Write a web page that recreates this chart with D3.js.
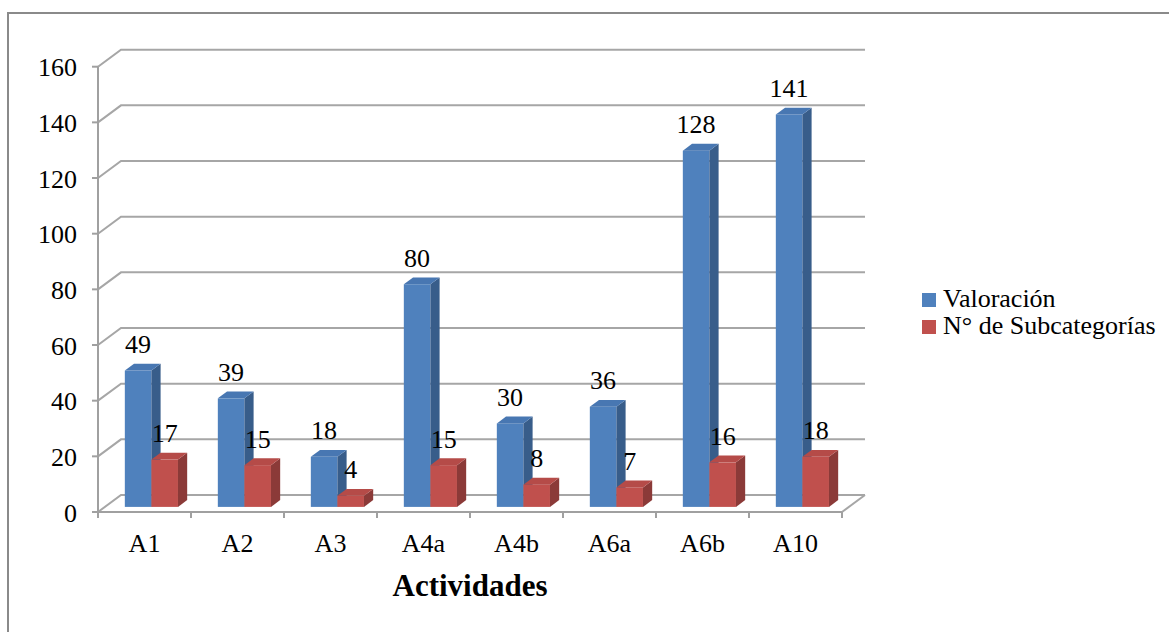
<!DOCTYPE html>
<html>
<head>
<meta charset="utf-8">
<script src="https://cdn.jsdelivr.net/npm/d3@7"></script>
<style>
  body { margin: 0; background: #fff; }
  svg text { font-family: "Liberation Serif", "Times New Roman", serif; fill: #000; }
</style>
</head>
<body>
<svg id="chart" width="1169" height="632"></svg>
<script>
// chart data
var categories = ["A1", "A2", "A3", "A4a", "A4b", "A6a", "A6b", "A10"];
var valoracion = [49, 39, 18, 80, 30, 36, 128, 141];
var subcategorias = [17, 15, 4, 15, 8, 7, 16, 18];
var seriesNames = ["Valoración", "N° de Subcategorías"];
var yTicks = [0, 20, 40, 60, 80, 100, 120, 140, 160];
var axisTitle = "Actividades";

var seriesValues = [valoracion, subcategorias];
var colors = [
  {front: "#4f81bd", side: "#385d8a", top: "#4877b2"},
  {front: "#c0504d", side: "#8b3a38", top: "#b54b48"}
];

// 3d box: floor front edge 98..842 at y 512, back wall shifted by (DX, -DY)
var DX = 23, DY = 17;
var t0 = 0.3, t1 = 0.7;   // bar depth inside the floor

var svg = d3.select("#chart");

// outer border
svg.append("rect")
  .attr("x", 8).attr("y", 13)
  .attr("width", 1180).attr("height", 640)
  .attr("fill", "none")
  .attr("stroke", "#8a8a8a")
  .attr("stroke-width", 2);

var x = d3.scaleBand()
  .domain(categories)
  .range([98, 842])
  .paddingInner(0).paddingOuter(0);

var xs = d3.scaleBand()
  .domain(seriesNames)
  .range([0, x.bandwidth()])
  .paddingInner(0).paddingOuter(0.75);

var y = d3.scaleLinear()
  .domain([0, 160])
  .range([512, 66.7]);

var grid = svg.append("g");

// wall gridlines (left wall + back wall)
grid.selectAll("path.grid")
  .data(yTicks)
  .enter().append("path")
  .attr("class", "grid")
  .attr("d", function(d) {
    var yy = y(d);
    return "M98," + yy + "L" + (98 + DX) + "," + (yy - DY) + "L" + (842 + DX) + "," + (yy - DY);
  })
  .attr("fill", "none")
  .attr("stroke", "#a6a6a6")
  .attr("stroke-width", 2);

// floor right edge
grid.append("path")
  .attr("d", "M842," + y(0) + "L" + (842 + DX) + "," + (y(0) - DY))
  .attr("fill", "none")
  .attr("stroke", "#a6a6a6")
  .attr("stroke-width", 2);

// y axis line and ticks
grid.append("line")
  .attr("x1", 98).attr("x2", 98)
  .attr("y1", y(0)).attr("y2", y(160))
  .attr("stroke", "#a0a0a0").attr("stroke-width", 2);

grid.selectAll("line.ytick")
  .data(yTicks)
  .enter().append("line")
  .attr("class", "ytick")
  .attr("x1", 92).attr("x2", 98)
  .attr("y1", function(d) { return y(d); })
  .attr("y2", function(d) { return y(d); })
  .attr("stroke", "#a0a0a0").attr("stroke-width", 2);

svg.selectAll("text.ylab")
  .data(yTicks)
  .enter().append("text")
  .attr("class", "ylab")
  .attr("x", 77)
  .attr("y", function(d) { return y(d) + 9.5; })
  .attr("text-anchor", "end")
  .style("font-size", "26px")
  .text(function(d) { return d; });

// x axis line and ticks
grid.append("line")
  .attr("x1", 98).attr("x2", 842)
  .attr("y1", y(0)).attr("y2", y(0))
  .attr("stroke", "#a0a0a0").attr("stroke-width", 2);

var xTickPos = categories.map(function(c) { return x(c); }).concat([842]);
grid.selectAll("line.xtick")
  .data(xTickPos)
  .enter().append("line")
  .attr("class", "xtick")
  .attr("x1", function(d) { return d; })
  .attr("x2", function(d) { return d; })
  .attr("y1", y(0)).attr("y2", y(0) + 6)
  .attr("stroke", "#a0a0a0").attr("stroke-width", 2);

svg.selectAll("text.xlab")
  .data(categories)
  .enter().append("text")
  .attr("class", "xlab")
  .attr("x", function(d) { return x(d) + x.bandwidth() / 2; })
  .attr("y", 552)
  .attr("text-anchor", "middle")
  .style("font-size", "26px")
  .text(function(d) { return d; });

svg.append("text")
  .attr("x", 470)
  .attr("y", 596)
  .attr("text-anchor", "middle")
  .style("font-size", "31px")
  .style("font-weight", "bold")
  .text(axisTitle);

// bars, painted left to right, blue before red
var offX = t0 * DX, offY = t0 * DY;
var bdx = (t1 - t0) * DX, bdy = (t1 - t0) * DY;

var bars = [];
categories.forEach(function(c, i) {
  seriesNames.forEach(function(s, j) {
    bars.push({cat: c, series: s, j: j, value: seriesValues[j][i]});
  });
});

var barG = svg.selectAll("g.bar")
  .data(bars)
  .enter().append("g")
  .attr("class", "bar");

function geom(d) {
  var x0 = x(d.cat) + xs(d.series) + offX;
  var x1 = x0 + xs.bandwidth();
  var top = y(d.value) - offY;
  var bot = y(0) - offY;
  return {x0: x0, x1: x1, top: top, bot: bot};
}

barG.append("rect")
  .attr("x", function(d) { return geom(d).x0; })
  .attr("y", function(d) { return geom(d).top; })
  .attr("width", xs.bandwidth())
  .attr("height", function(d) { var g = geom(d); return g.bot - g.top; })
  .attr("fill", function(d) { return colors[d.j].front; });

barG.append("path")
  .attr("d", function(d) {
    var g = geom(d);
    return "M" + g.x1 + "," + g.top + "L" + (g.x1 + bdx) + "," + (g.top - bdy) +
      "L" + (g.x1 + bdx) + "," + (g.bot - bdy) + "L" + g.x1 + "," + g.bot + "Z";
  })
  .attr("fill", function(d) { return colors[d.j].side; });

barG.append("path")
  .attr("d", function(d) {
    var g = geom(d);
    return "M" + g.x0 + "," + g.top + "L" + (g.x0 + bdx) + "," + (g.top - bdy) +
      "L" + (g.x1 + bdx) + "," + (g.top - bdy) + "L" + g.x1 + "," + g.top + "Z";
  })
  .attr("fill", function(d) { return colors[d.j].top; });

// data labels
svg.selectAll("text.dlab")
  .data(bars)
  .enter().append("text")
  .attr("class", "dlab")
  .attr("x", function(d) { var g = geom(d); return (g.x0 + g.x1) / 2; })
  .attr("y", function(d) { return geom(d).top - 17.5; })
  .attr("text-anchor", "middle")
  .style("font-size", "26px")
  .text(function(d) { return d.value; });

// legend
var legend = svg.selectAll("g.legend")
  .data(seriesNames)
  .enter().append("g")
  .attr("class", "legend")
  .attr("transform", function(d, i) { return "translate(922," + (293 + i * 27) + ")"; });

legend.append("rect")
  .attr("width", 14)
  .attr("height", 14)
  .attr("fill", function(d, i) { return colors[i].front; });

legend.append("text")
  .attr("x", 21)
  .attr("y", 14)
  .style("font-size", "26px")
  .text(function(d) { return d; });
</script>
</body>
</html>
